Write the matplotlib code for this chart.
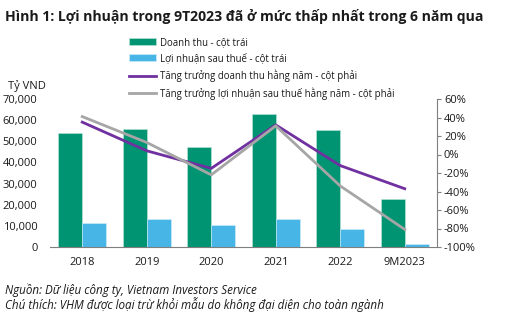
import numpy as np
import matplotlib.pyplot as plt
from matplotlib.ticker import FuncFormatter

plt.rcParams['font.family'] = ['Open Sans', 'DejaVu Sans']

# số liệu (tỷ VND và %)
years = ["2018", "2019", "2020", "2021", "2022", "9M2023"]
revenue = [53800, 55800, 47400, 62800, 55200, 22700]
profit = [11500, 13100, 10300, 13400, 8500, 1300]
rev_growth = [35, 4, -15, 32, -12, -37]
profit_growth = [41, 13, -22, 31, -34, -81]

green = "#009473"
blue = "#47B6E6"
purple = "#7030A0"
grey = "#A6A6A6"
txt = "#1a1a1a"

fig = plt.figure(figsize=(5.22, 3.25), dpi=100)
ax = fig.add_axes([50/522, 1-247/325, 387/522, 148/325])
ax2 = ax.twinx()

x = np.arange(len(years))
w = 0.37
b1 = ax.bar(x - w/2, revenue, w, color=green, edgecolor="#bfe6d9", linewidth=0.4)
b2 = ax.bar(x + w/2, profit, w, color=blue, edgecolor="#d5eefa", linewidth=0.4)
l1, = ax2.plot(x, rev_growth, color=purple, lw=2)
l2, = ax2.plot(x, profit_growth, color=grey, lw=2)

ax.set_xlim(-0.5, len(years) - 0.5)
ax.set_ylim(0, 70000)
ax.set_yticks(range(0, 70001, 10000))
ax.yaxis.set_major_formatter(FuncFormatter(lambda v, p: f"{int(v):,}"))
ax.set_xticks(x)
ax.set_xticklabels(years)
ax2.set_ylim(-100, 60)
ax2.set_yticks(range(-100, 61, 20))
ax2.yaxis.set_major_formatter(FuncFormatter(lambda v, p: f"{int(v)}%"))

for a in (ax, ax2):
    for s in a.spines.values():
        s.set_visible(False)
    a.tick_params(labelsize=8, colors=txt)
ax.spines["bottom"].set_visible(True)
ax.spines["bottom"].set_color("#7f7f7f")
ax.tick_params(axis="y", length=0, pad=9)
ax.tick_params(axis="x", length=0, pad=7)
ax2.spines["right"].set_visible(True)
ax2.spines["right"].set_color("#7f7f7f")
ax2.tick_params(axis="y", length=3, color="#7f7f7f", pad=2)

fig.legend([b1, b2, l1, l2],
           ["Doanh thu - cột trái", "Lợi nhuận sau thuế - cột trái",
            "Tăng trưởng doanh thu hằng năm - cột phải",
            "Tăng trưởng lợi nhuận sau thuế hằng năm - cột phải"],
           loc="upper left", bbox_to_anchor=(124/522, 1-32/325), frameon=False,
           fontsize=6.95, handlelength=2.8, handleheight=0.7, labelspacing=0.55,
           handletextpad=0.4, borderpad=0, labelcolor=txt)

fig.text(5/522, 1-17/325, "Hình 1: Lợi nhuận trong 9T2023 đã ở mức thấp nhất trong 6 năm qua",
         fontsize=10.1, fontweight="bold", va="center", color=txt)
fig.text(8/522, 1-86/325, "Tỷ VND", fontsize=8, va="center", color=txt)
fig.text(5/522, 1-290/325, "Nguồn: Dữ liệu công ty, Vietnam Investors Service",
         fontsize=8.4, style="italic", va="center", color=txt)
fig.text(5/522, 1-305/325, "Chú thích: VHM được loại trừ khỏi mẫu do không đại diện cho toàn ngành",
         fontsize=8.4, style="italic", va="center", color=txt)

fig.savefig("out.png", dpi=100)
